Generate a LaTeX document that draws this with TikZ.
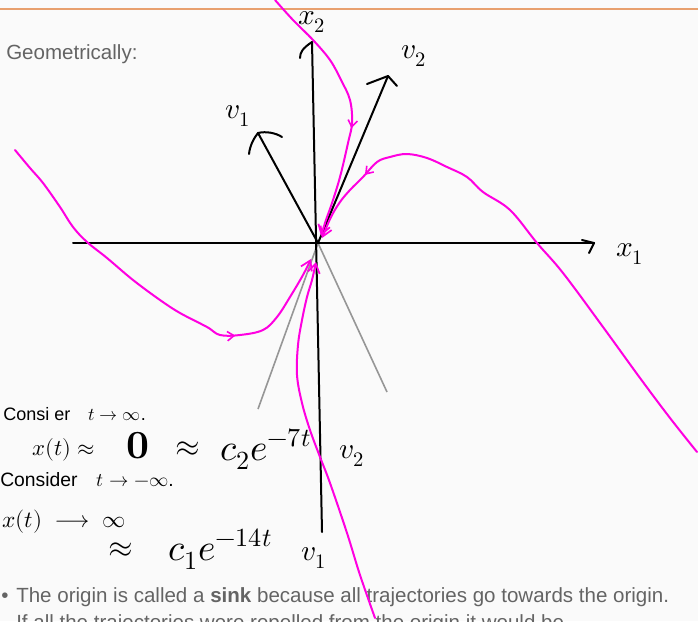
\documentclass[tikz,border=0pt]{standalone}
\usepackage{fontspec}
\setmainfont{Liberation Sans}
\usepackage{unicode-math}
\setmathfont{Latin Modern Math}
\usetikzlibrary{arrows.meta,decorations.markings}
\definecolor{bg}{RGB}{250,250,250}
\definecolor{pk}{RGB}{255,0,225}
\definecolor{txt}{RGB}{100,100,100}
\definecolor{rule}{RGB}{232,160,110}
\definecolor{gline}{RGB}{150,150,150}
\tikzset{
  ink/.style={draw=black,line width=1.5pt,line cap=round,line join=round},
  traj/.style={draw=pk,line width=1.5pt,line cap=round,line join=round},
  tip/.style={-{Straight Barb[length=7pt,width=9pt,line width=1.3pt]}},
  guide/.style={draw=gline,line width=1.2pt},
  hand/.style={inner sep=0pt,anchor=west,text=black},
  bodytext/.style={inner sep=0pt,anchor=base west,text=txt,font=\fontsize{15.4pt}{18pt}\selectfont},
  midtip/.style={postaction={decorate,decoration={markings,mark=at position #1 with {\arrow{Straight Barb[length=5pt,width=7pt,line width=1.2pt]}}}}}
}
\begin{document}
\begin{tikzpicture}[x=0.75pt,y=-0.75pt]
\path[fill=bg] (0,0) rectangle (698,621);
\useasboundingbox (0,0) rectangle (698,621);
\begin{scope}
\clip (0,0) rectangle (698,621);
% top rule
\draw[rule,line width=1pt] (0,9) -- (698,9);
% texts
\node[bodytext] (geo) at (6,59) {Geometrically:};
\node[bodytext] (b1) at (16,602) {The origin is called a \textbf{sink} because all trajectories go towards the origin.};
\node[bodytext] (b2) at (16,629) {If all the trajectories were repelled from the origin it would be};
\node[bodytext,anchor=base] (dot) at (5,602) {•};

% named points
\coordinate (O) at (318,243);
\coordinate (X1L) at (73,243);
\coordinate (X1R) at (594,243);
\coordinate (X2T) at (312,42);
\coordinate (X2B) at (322,532);
\coordinate (V1) at (258,133);
\coordinate (V2) at (388,76);
\coordinate (GL) at (258,409);
\coordinate (GR) at (387,392);

% gray guide lines
\draw[guide] (O) -- (GL);
\draw[guide] (O) -- (GR);

% axes
\draw[ink] (X1L) -- (X1R);
\draw[ink] (582,240) -- (X1R) -- (589,253);
\draw[ink] (X2B) -- (X2T);
\draw[ink] (X2T) .. controls (303,48) and (300,52) .. (300,58);
% eigenvectors
\draw[ink] (O) -- (V1);
\draw[ink] (249,154) .. controls (250,145) and (254,138) .. (V1) .. controls (266,131) and (276,133) .. (282,137);
\draw[ink] (O) -- (V2);
\draw[ink] (367,84) -- (V2) -- (397,86);

% labels
\node[hand,anchor=center,font=\fontsize{22pt}{22pt}\selectfont] (lx2) at (312,22) {$x_2$};
\node[hand,anchor=center,font=\fontsize{22pt}{22pt}\selectfont] (lx1) at (630,254) {$x_1$};
\node[hand,anchor=center,font=\fontsize{22pt}{22pt}\selectfont] (lv1) at (238,116) {$v_1$};
\node[hand,anchor=center,font=\fontsize{22pt}{22pt}\selectfont] (lv2) at (414,56) {$v_2$};

% trajectories
\draw[traj,tip,midtip=0.58] plot[smooth,tension=0.6] coordinates {(275,0) (293,20) (313,40) (330,60) (341,80) (350,100) (352,123) (348,143) (340,177) (332,203) (326,220) (321,236)};
\draw[traj,tip,midtip=0.86] plot[smooth,tension=0.6] coordinates {(697,452) (670,418) (640,378) (603,327) (563,273) (537,243) (510,210) (483,192) (467,177) (447,167) (427,158) (407,154) (390,157) (377,162) (363,177) (350,190) (340,202) (331,217) (322,238)};
\draw[traj,tip,midtip=0.72] plot[smooth,tension=0.6] coordinates {(15,150) (30,168) (43,183) (60,207) (73,227) (87,242) (107,258) (133,280) (160,300) (180,313) (207,327) (220,335) (240,335) (263,330) (277,317) (290,297) (303,275) (311,259)};
\draw[traj,tip] plot[smooth,tension=0.6] coordinates {(375,618) (360,575) (347,533) (330,483) (320,457) (310,430) (302,403) (297,375) (298,345) (302,320) (307,297) (312,280) (316,262)};

% handwritten notes
\node[hand,font=\fontsize{13.5pt}{13.5pt}\selectfont] (n1) at (3,414) {Consi er\quad $t\to\infty$.};
\node[hand,font=\fontsize{17pt}{17pt}\selectfont] (n2) at (32,450) {$x(t)\approx$};
\node[hand,anchor=center,font=\fontsize{30pt}{30pt}\selectfont] (n3) at (138,446) {$\symbf{0}$};
\node[hand,anchor=center,font=\fontsize{24pt}{24pt}\selectfont] (n4) at (188,449) {$\approx$};
\node[hand,font=\fontsize{28pt}{28pt}\selectfont] (n5) at (220,449) {$c_2e^{-7t}$};
\node[hand,anchor=center,font=\fontsize{22pt}{22pt}\selectfont] (n6) at (352,456) {$v_2$};
\node[hand,font=\fontsize{14.5pt}{14.5pt}\selectfont] (n7) at (0,480) {Consider\quad $t\to-\infty$.};
\node[hand,font=\fontsize{17.5pt}{17.5pt}\selectfont] (n8) at (2,522) {$x(t)\;\longrightarrow\;\infty$};
\node[hand,anchor=center,font=\fontsize{24pt}{24pt}\selectfont] (n9) at (121,550) {$\approx$};
\node[hand,font=\fontsize{28pt}{28pt}\selectfont] (n10) at (168,549) {$c_1e^{-14t}$};
\node[hand,anchor=center,font=\fontsize{22pt}{22pt}\selectfont] (n11) at (314,558) {$v_1$};
\end{scope}
\end{tikzpicture}
\end{document}
